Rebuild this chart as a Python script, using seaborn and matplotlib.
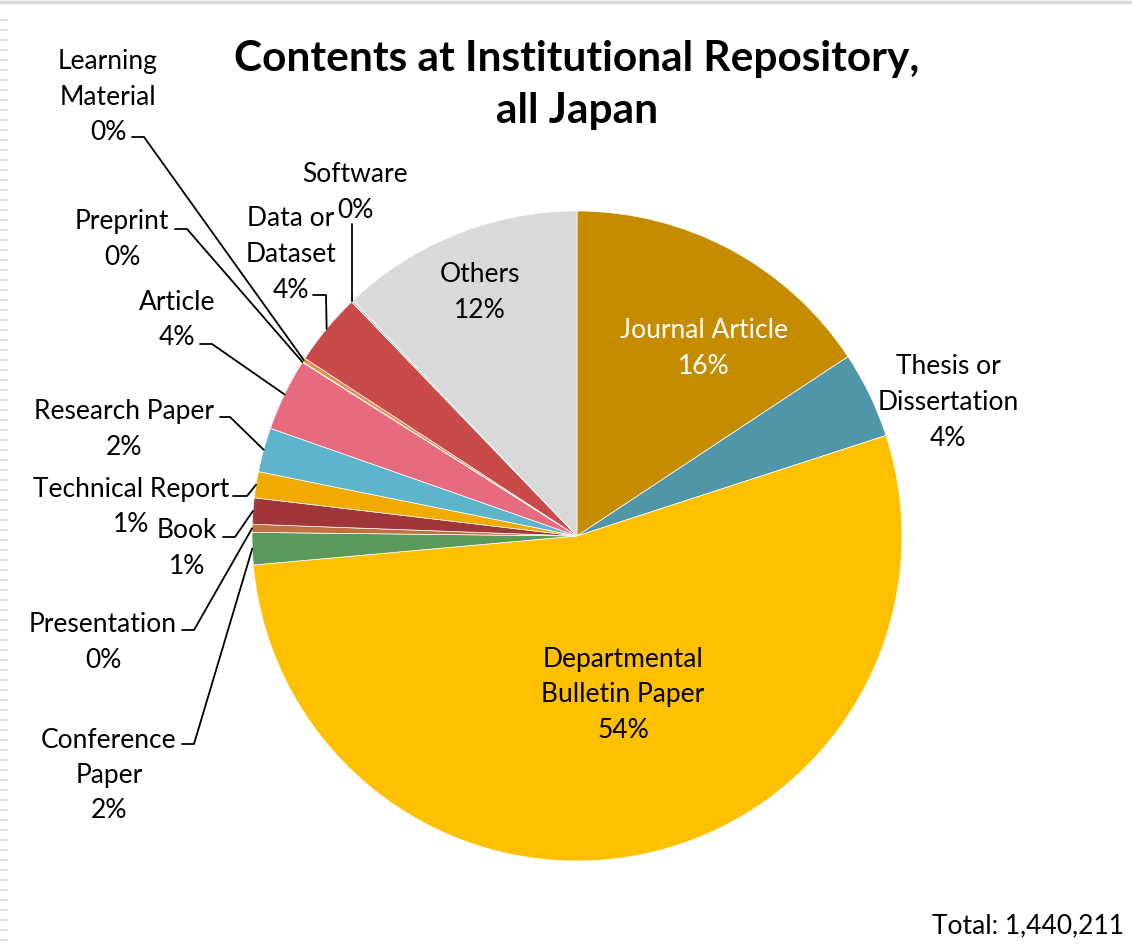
import numpy as np
import matplotlib
matplotlib.use("Agg")
import matplotlib.pyplot as plt
import seaborn as sns
from matplotlib.lines import Line2D

sns.set_theme(style="white")
plt.rcParams['font.family'] = ['Lato', 'DejaVu Sans']

# ---------------- data ----------------
categories = ["Journal Article", "Thesis or\nDissertation", "Departmental\nBulletin Paper",
              "Conference\nPaper", "Presentation", "Book", "Technical Report",
              "Research Paper", "Article", "Preprint", "Learning\nMaterial",
              "Data or\nDataset", "Software", "Others"]
values = [15.7, 4.3, 53.6, 1.6, 0.4, 1.3, 1.3, 2.2, 3.6, 0.03, 0.2, 3.6, 0.1, 12.1]
colors = ["#C58C00", "#4F96A8", "#FFC000", "#5A995A", "#C2703F", "#A0363A",
          "#F0AA00", "#5EB4CB", "#E76B7E", "#9DB08A", "#E8894E", "#C84B4A",
          "#B8B8B8", "#D9D9D9"]
title = "Contents at Institutional Repository,\nall Japan"
total_text = "Total: 1,440,211"

W, H = 1132, 950
fig = plt.figure(figsize=(W / 100, H / 100), dpi=100)
ax = fig.add_axes([0, 0, 1, 1])

def Y(y):
    return H - y

cx, cy, R = 577, Y(536), 325
wedges, _ = ax.pie(values, colors=colors, startangle=90, counterclock=False,
                   center=(cx, cy), radius=R,
                   wedgeprops=dict(edgecolor="white", linewidth=0.5))
ax.set_xlim(0, W)
ax.set_ylim(0, H)
ax.set_aspect('equal')
ax.axis('off')

total = sum(values)
pcts = [f"{round(v / total * 100):.0f}%" for v in values]

FS = 19
LINE_H = 35.5
DY = 2
# label layout: (first-line center x, first-line y, color, leader (x1, x2, y) or None)
layout = {
    0: (704, 329, "white", None),
    1: (948, 365, "black", None),
    2: (623, 657, "black", None),
    3: (109, 738, "black", (182, 194, 744)),
    4: (103, 623, "black", (182, 194, 630)),
    5: (187, 529, "black", (223, 235, 537)),
    6: (131, 487, "black", (233, 247, 496)),
    7: (124, 410, "black", (220, 230, 417)),
    8: (177, 300, "black", (200, 212, 344)),
    9: (122, 220, "black", (175, 187, 229)),
    10: (108, 60, "black", (132, 144, 137)),
    11: (291, 217, "black", (313, 326, 295)),
    12: (355, 173, "black", "vertical"),
    13: (480, 273, "black", None),
}

for i, w in enumerate(wedges):
    tx, ty, col, lead = layout[i]
    lines = categories[i].split("\n") + [pcts[i]]
    for k, line in enumerate(lines):
        ax.text(tx, Y(ty + DY + k * LINE_H), line, ha="center", va="center",
                fontsize=FS, color=col)
    mid = np.deg2rad((w.theta1 + w.theta2) / 2)
    ex, ey = cx + R * np.cos(mid), cy + R * np.sin(mid)
    if lead == "vertical":
        ax.add_line(Line2D([ex, ex], [Y(224), ey], color="black", lw=1.3))
    elif lead is not None:
        x1, x2, ly = lead
        ax.add_line(Line2D([x1, x2, ex], [Y(ly), Y(ly), ey], color="black", lw=1.3))

ax.text(W / 2 + 11, Y(85), title, ha="center", va="center", fontsize=30.5,
        fontweight="bold", color="black", linespacing=1.42)
ax.text(1124, Y(926), total_text, ha="right", va="center", fontsize=FS, color="black")

# frame edges of the original screenshot
ax.add_line(Line2D([0, W], [Y(2), Y(2)], color="#D9D9D9", lw=2.5))
for yy in range(20, H, 10):
    ax.add_line(Line2D([0, 7], [Y(yy), Y(yy)], color="#D9D9D9", lw=1.2))

fig.savefig("out.png", dpi=100)
